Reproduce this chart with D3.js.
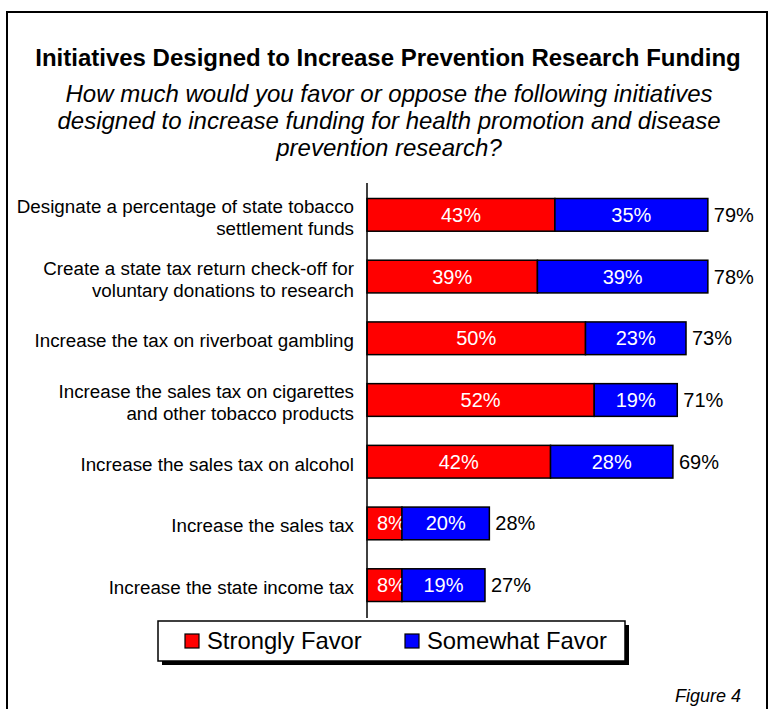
<!DOCTYPE html>
<html>
<head>
<meta charset="utf-8">
<script src="https://cdn.jsdelivr.net/npm/d3@7"></script>
<style>
  html, body { margin: 0; padding: 0; background: #fff; }
  svg { display: block; font-family: "Liberation Sans", Arial, sans-serif; }
</style>
</head>
<body>
<svg id="chart" width="769" height="709"></svg>
<script>
// Survey initiatives, top to bottom
const categories = [
  ["Designate a percentage of state tobacco", "settlement funds"],
  ["Create a state tax return check-off for", "voluntary donations to research"],
  ["Increase the tax on riverboat gambling"],
  ["Increase the sales tax on cigarettes", "and other tobacco products"],
  ["Increase the sales tax on alcohol"],
  ["Increase the sales tax"],
  ["Increase the state income tax"]
];
const stronglyFavor = [43, 39, 50, 52, 42, 8, 8];
const somewhatFavor = [35, 39, 23, 19, 28, 20, 19];
const totalFavor = [79, 78, 73, 71, 69, 28, 27];
const seriesNames = ["Strongly Favor", "Somewhat Favor"];
const seriesColors = ["#ff0000", "#0000ff"];

const svg = d3.select("#chart");

// Frame
svg.append("rect")
  .attr("x", 7).attr("y", 12).attr("width", 760).attr("height", 720)
  .attr("fill", "none").attr("stroke", "#000").attr("stroke-width", 2);

// Title and question
svg.append("text")
  .attr("x", 388).attr("y", 66)
  .attr("text-anchor", "middle")
  .attr("font-size", 24).attr("font-weight", "bold")
  .text("Initiatives Designed to Increase Prevention Research Funding");

const question = [
  "How much would you favor or oppose the following initiatives",
  "designed to increase funding for health promotion and disease",
  "prevention research?"
];
svg.append("g").selectAll("text").data(question).join("text")
  .attr("x", 389).attr("y", (d, i) => 102 + i * 27)
  .attr("text-anchor", "middle")
  .attr("font-size", 24).attr("font-style", "italic")
  .text(d => d);

// Scales
const x0 = 367;
const x = d3.scaleLinear().domain([0, 100]).range([x0, x0 + 437]);
const y = d3.scaleBand()
  .domain(d3.range(categories.length))
  .range([184, 616])
  .paddingInner(0.47).paddingOuter(0.235);

const rows = categories.map((c, i) => ({
  i, label: c, parts: [stronglyFavor[i], somewhatFavor[i]], total: totalFavor[i]
}));

const bars = svg.append("g");
rows.forEach(r => {
  let start = 0;
  r.parts.forEach((v, k) => {
    bars.append("rect")
      .attr("x", x(start)).attr("y", y(r.i))
      .attr("width", x(start + v) - x(start)).attr("height", y.bandwidth())
      .attr("fill", seriesColors[k]).attr("stroke", "#000").attr("stroke-width", 1.5);
    const small = v < 10;
    bars.append("text")
      .attr("x", small ? x(start) + 10 : (x(start) + x(start + v)) / 2)
      .attr("y", y(r.i) + y.bandwidth() / 2 + 7)
      .attr("text-anchor", small ? "start" : "middle")
      .attr("fill", "#fff").attr("font-size", 20)
      .text(v + "%");
    start += v;
  });
  bars.append("text")
    .attr("x", x(start) + 6)
    .attr("y", y(r.i) + y.bandwidth() / 2 + 7)
    .attr("font-size", 20).attr("fill", "#000")
    .text(r.total + "%");
});

// Category labels
const labels = svg.append("g");
rows.forEach(r => {
  const n = r.label.length;
  const cy = y(r.i) + y.bandwidth() / 2;
  r.label.forEach((line, j) => {
    labels.append("text")
      .attr("x", 354)
      .attr("y", cy + 9 + (j - (n - 1) / 2) * 22)
      .attr("text-anchor", "end")
      .attr("font-size", 18.8)
      .text(line);
  });
});

// Vertical axis line
svg.append("line")
  .attr("x1", x0).attr("x2", x0).attr("y1", 183).attr("y2", 618)
  .attr("stroke", "#000").attr("stroke-width", 1.5);

// Legend with drop shadow
const lg = svg.append("g");
lg.append("rect").attr("x", 162).attr("y", 625).attr("width", 467).attr("height", 40).attr("fill", "#000");
lg.append("rect").attr("x", 158).attr("y", 621).attr("width", 467).attr("height", 40)
  .attr("fill", "#fff").attr("stroke", "#000").attr("stroke-width", 1.5);
const legendX = [185, 405];
seriesNames.forEach((name, k) => {
  lg.append("rect").attr("x", legendX[k]).attr("y", 634).attr("width", 14).attr("height", 14)
    .attr("fill", seriesColors[k]).attr("stroke", "#000").attr("stroke-width", 1.2);
  lg.append("text").attr("x", legendX[k] + 22).attr("y", 649)
    .attr("font-size", 23.8).text(name);
});

// Figure caption
svg.append("text")
  .attr("x", 741).attr("y", 702)
  .attr("text-anchor", "end")
  .attr("font-size", 18).attr("font-style", "italic")
  .text("Figure 4");
</script>
</body>
</html>
